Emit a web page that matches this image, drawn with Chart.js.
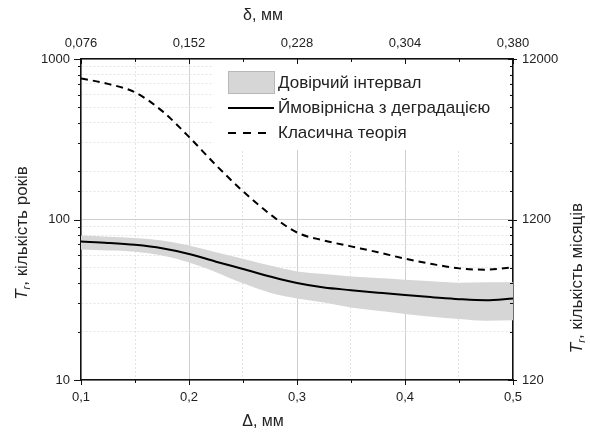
<!DOCTYPE html>
<html>
<head>
<meta charset="utf-8">
<script src="https://cdn.jsdelivr.net/npm/chart.js@4.4.0/dist/chart.umd.min.js"></script>
<style>
  html, body { margin: 0; padding: 0; background: #fff; }
  canvas { display: block; }
</style>
</head>
<body>
<canvas id="chart" width="590" height="435"></canvas>
<script>
// Дані
const deltaValues = [0.1, 0.125, 0.15, 0.175, 0.2, 0.225, 0.25, 0.275, 0.3, 0.325, 0.35, 0.375, 0.4, 0.425, 0.45, 0.475, 0.5];
const probabilistic = [72.9, 71.5, 69.5, 66.2, 61, 54.6, 49.2, 44.2, 40.2, 37.7, 36.3, 35, 33.8, 32.8, 31.9, 31.4, 32.2];
const bandUpper = [79.4, 78.2, 76.8, 74, 68.8, 62.5, 57, 51.6, 47.5, 45.8, 44.2, 43.2, 42.2, 41.2, 40.4, 40.6, 40.6];
const bandLower = [65, 64, 63, 59.6, 54, 47, 40, 35, 32.2, 30.4, 28.3, 27, 25.8, 24.8, 24, 23.4, 23.6];
const classic = [757, 700, 620, 475, 327, 218, 150, 108, 83, 74, 68, 62.5, 57, 52.8, 49.6, 48.7, 50.3];

const topLabels = [0.076, 0.152, 0.228, 0.304, 0.380];
const rightTicks = [120, 1200, 12000];

const seriesNames = ['Довірчий інтервал', 'Ймовірнісна з деградацією', 'Класична теорія'];

const FONT = "'Liberation Sans', Arial, sans-serif";
const TEXT = '#222';

const pts = ys => deltaValues.map((x, i) => ({ x, y: ys[i] }));
const isMajorX = v => Math.abs(v * 10 - Math.round(v * 10)) < 1e-6;
const isMajorY = v => Math.abs(Math.log10(v) - Math.round(Math.log10(v))) < 1e-6;
const comma = s => s.replace('.', ',');

// підпис осі з курсивною T та індексом r
function drawRotatedTitle(ctx, cx, cy, rest) {
  ctx.save();
  ctx.translate(cx, cy);
  ctx.rotate(-Math.PI / 2);
  ctx.fillStyle = TEXT;
  ctx.textBaseline = 'middle';
  const fT = 'italic 17px ' + FONT, fR = 'italic 11px ' + FONT, fN = '17px ' + FONT;
  ctx.font = fT; const wT = ctx.measureText('T').width;
  ctx.font = fR; const wR = ctx.measureText('r').width;
  ctx.font = fN; const wN = ctx.measureText(rest).width;
  let x = -(wT + wR + wN) / 2;
  ctx.textAlign = 'left';
  ctx.font = fT; ctx.fillText('T', x, 0); x += wT;
  ctx.font = fR; ctx.fillText('r', x, 5); x += wR;
  ctx.font = fN; ctx.fillText(rest, x, 0);
  ctx.restore();
}

const decorPlugin = {
  id: 'decor',
  afterDatasetsDraw(chart) {
    const ctx = chart.ctx;
    const a = chart.chartArea;
    const ds = chart.data.datasets;
    const lx = a.left + 147, ly = a.top + 24;
    ctx.save();
    ctx.fillStyle = '#fff';
    ctx.fillRect(a.left + 133, a.top + 1, a.right - a.left - 136, 90);
    // рядок 1: смуга
    ctx.fillStyle = ds[0].backgroundColor;
    ctx.strokeStyle = '#b8b8b8';
    ctx.lineWidth = 1;
    ctx.fillRect(lx, ly - 12, 47, 23);
    ctx.strokeRect(lx + 0.5, ly - 11.5, 46, 22);
    // рядок 2: суцільна
    ctx.strokeStyle = ds[2].borderColor;
    ctx.lineWidth = ds[2].borderWidth;
    ctx.beginPath(); ctx.moveTo(lx, ly + 25); ctx.lineTo(lx + 46, ly + 25); ctx.stroke();
    // рядок 3: штрихова
    ctx.strokeStyle = ds[3].borderColor;
    ctx.lineWidth = ds[3].borderWidth;
    ctx.setLineDash([8, 7]);
    ctx.beginPath(); ctx.moveTo(lx, ly + 50); ctx.lineTo(lx + 40, ly + 50); ctx.stroke();
    ctx.setLineDash([]);
    ctx.fillStyle = TEXT;
    ctx.font = '17px ' + FONT;
    ctx.textBaseline = 'middle';
    ctx.textAlign = 'left';
    seriesNames.forEach((n, i) => ctx.fillText(n, lx + 50, ly + i * 25));
    ctx.restore();
  },
  afterDraw(chart) {
    const ctx = chart.ctx;
    const a = chart.chartArea;
    const sx = chart.scales.x, sy = chart.scales.y;
    ctx.save();
    ctx.strokeStyle = '#111';
    ctx.lineWidth = 1;
    ctx.beginPath();
    sx.ticks.forEach(t => {
      const px = Math.round(sx.getPixelForValue(t.value)) + 0.5;
      const len = isMajorX(t.value) ? 5 : 3;
      ctx.moveTo(px, a.bottom); ctx.lineTo(px, a.bottom + len);
      ctx.moveTo(px, a.top); ctx.lineTo(px, a.top + len);
    });
    sy.ticks.forEach(t => {
      const py = Math.round(sy.getPixelForValue(t.value)) + 0.5;
      const major = isMajorY(t.value);
      ctx.moveTo(a.left, py); ctx.lineTo(a.left - (major ? 7 : 3), py);
      ctx.moveTo(a.right, py); ctx.lineTo(a.right - (major ? 5 : 3), py);
      if (major) { ctx.moveTo(a.right, py); ctx.lineTo(a.right + 4, py); }
    });
    ctx.stroke();
    // підписи горизонтальних осей
    ctx.fillStyle = TEXT;
    ctx.font = '16px ' + FONT;
    ctx.textAlign = 'center';
    ctx.textBaseline = 'middle';
    ctx.fillText('δ, мм', 263, 16);
    ctx.fillText('Δ, мм', 263, 422);
    ctx.restore();
    drawRotatedTitle(ctx, 22, 233, ', кількість років');
    drawRotatedTitle(ctx, 577, 278, ', кількість місяців');
  }
};

new Chart(document.getElementById('chart'), {
  type: 'line',
  data: {
    datasets: [
      { label: seriesNames[0], data: pts(bandUpper), borderWidth: 0, pointRadius: 0,
        backgroundColor: '#d6d6d6', fill: '+1', cubicInterpolationMode: 'monotone', order: 5 },
      { label: 'lower', data: pts(bandLower), borderWidth: 0, pointRadius: 0,
        fill: false, cubicInterpolationMode: 'monotone', order: 6 },
      { label: seriesNames[1], data: pts(probabilistic), borderColor: '#000', borderWidth: 2,
        pointRadius: 0, fill: false, cubicInterpolationMode: 'monotone', order: 1 },
      { label: seriesNames[2], data: pts(classic), borderColor: '#000', borderWidth: 2,
        borderDash: [7, 5], pointRadius: 0, fill: false, cubicInterpolationMode: 'monotone', order: 2 }
    ]
  },
  options: {
    responsive: false,
    animation: false,
    devicePixelRatio: 1,
    layout: { padding: 0 },
    plugins: { legend: { display: false }, tooltip: { enabled: false } },
    scales: {
      x: {
        type: 'linear', position: 'bottom', min: 0.1, max: 0.5,
        afterFit: s => { s.height = 55; },
        ticks: { stepSize: 0.05, autoSkip: false, maxRotation: 0, padding: 10, color: TEXT,
          font: { family: FONT, size: 13 },
          callback: v => isMajorX(v) ? comma(v.toFixed(1)) : '' },
        grid: { drawTicks: false,
          color: c => c.tick && isMajorX(c.tick.value) ? '#cfcfcf' : '#e4e4e4' },
        border: { color: '#111', width: 1.5,
          dash: c => (c.tick && !isMajorX(c.tick.value)) ? [2, 2] : [] }
      },
      x2: {
        type: 'linear', position: 'top', min: 0.076, max: 0.38, display: true,
        afterFit: s => { s.height = 59; },
        afterBuildTicks: s => { s.ticks = topLabels.map(v => ({ value: v })); },
        ticks: { autoSkip: false, maxRotation: 0, padding: 8, color: TEXT,
          font: { family: FONT, size: 13 },
          callback: v => comma(v.toFixed(3)) },
        grid: { drawTicks: false, drawOnChartArea: false },
        border: { color: '#111', width: 1.5 }
      },
      y: {
        type: 'logarithmic', position: 'left', min: 10, max: 1000,
        afterFit: s => { s.width = 81; },
        ticks: { autoSkip: false, padding: 11, color: TEXT,
          font: { family: FONT, size: 13 },
          callback: v => isMajorY(v) ? String(Math.round(v)) : '' },
        grid: { drawTicks: false,
          color: c => c.tick && isMajorY(c.tick.value) ? '#cfcfcf' : '#e4e4e4' },
        border: { color: '#111', width: 1.5,
          dash: c => (c.tick && !isMajorY(c.tick.value)) ? [2, 2] : [] }
      },
      y2: {
        type: 'logarithmic', position: 'right', min: 120, max: 12000, display: true,
        afterFit: s => { s.width = 77; },
        afterBuildTicks: s => { s.ticks = rightTicks.map(v => ({ value: v })); },
        ticks: { autoSkip: false, padding: 9, color: TEXT,
          font: { family: FONT, size: 13 },
          callback: v => String(Math.round(v)) },
        grid: { drawTicks: false, drawOnChartArea: false },
        border: { color: '#111', width: 1.5 }
      }
    }
  },
  plugins: [decorPlugin]
});
</script>
</body>
</html>
